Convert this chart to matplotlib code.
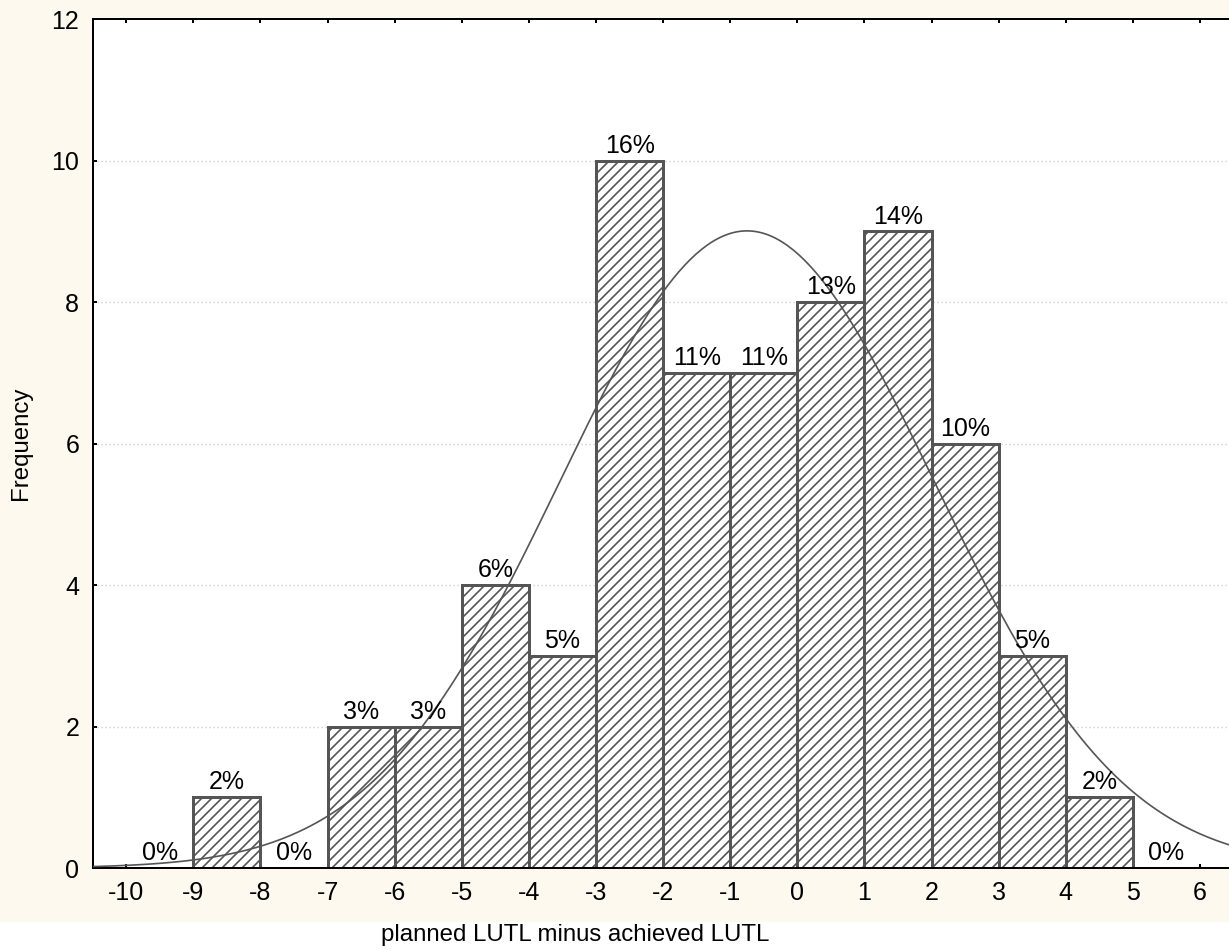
import numpy as np
import matplotlib.pyplot as plt
from matplotlib.patches import Rectangle

# histogram bins (left edges) and counts
bin_left = [-10, -9, -8, -7, -6, -5, -4, -3, -2, -1, 0, 1, 2, 3, 4, 5]
counts = [0, 1, 0, 2, 2, 4, 3, 10, 7, 7, 8, 9, 6, 3, 1, 0]
x_ticks = list(range(-10, 7))
y_ticks = [0, 2, 4, 6, 8, 10, 12]

# fitted normal curve
fit_mean = -0.75
fit_sd = 2.79

plt.rcParams['font.family'] = ['Liberation Sans', 'DejaVu Sans']
plt.rcParams['axes.unicode_minus'] = False
plt.rcParams['hatch.linewidth'] = 1.0

dpi = 120
fig = plt.figure(figsize=(1229 / dpi, 950 / dpi), dpi=dpi, facecolor='white')
cream = '#fdf9ee'
fig.patches.append(Rectangle((0, 28 / 950), 1, 1, transform=fig.transFigure,
                             facecolor=cream, edgecolor='none', zorder=-10))

ax = fig.add_axes([92.7 / 1229, 82 / 950, (1233.6 - 92.7) / 1229, (868 - 19.3) / 950])
ax.set_facecolor('white')

total = sum(counts)
ax.bar(bin_left, counts, width=1, align='edge', facecolor='white',
       edgecolor='#555555', linewidth=1.8, hatch='////', zorder=2)

for left, c in zip(bin_left, counts):
    pct = round(100 * c / total)
    ax.text(left + 0.5, c + 0.04, f'{pct}%', ha='center', va='bottom',
            fontsize=15, zorder=4)

xs = np.linspace(-10.5, 6.5, 400)
ys = total * 1.0 / (fit_sd * np.sqrt(2 * np.pi)) * np.exp(-0.5 * ((xs - fit_mean) / fit_sd) ** 2)
ax.plot(xs, ys, color='#555555', lw=1.0, zorder=3)

for yv in y_ticks[1:-1]:
    ax.axhline(yv, color='#cccccc', lw=0.8, ls=(0, (1, 2)), zorder=1)

ax.set_xlim(-10.5, 6.5)
ax.set_ylim(0, 12)
ax.set_xticks(x_ticks)
ax.set_yticks(y_ticks)
ax.tick_params(direction='in', length=2.6, width=1.2, labelsize=15, pad=8,
               top=True, right=True)
for s in ax.spines.values():
    s.set_linewidth(1.2)
    s.set_color('black')

fig.text(575 / 1229, 15 / 950, 'planned LUTL minus achieved LUTL',
         ha='center', va='center', fontsize=14.4)
fig.text(21 / 1229, (950 - 443) / 950, 'Frequency', ha='center', va='center',
         rotation=90, fontsize=14.4)

fig.savefig('out.png', dpi=dpi, facecolor=fig.get_facecolor())
